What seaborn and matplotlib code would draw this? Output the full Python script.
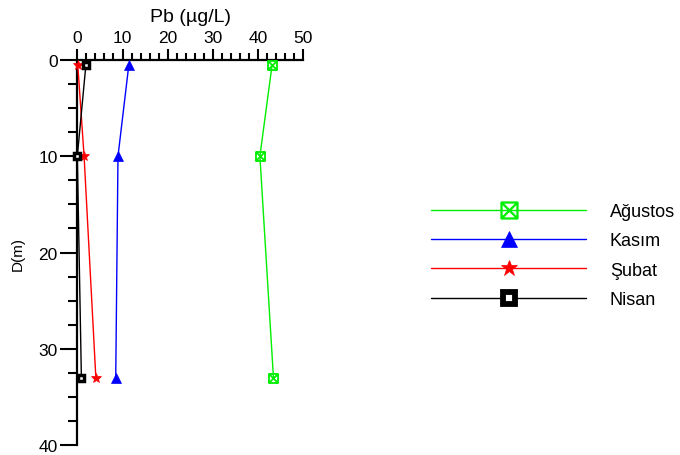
import numpy as np
import pandas as pd
import seaborn as sns
import matplotlib
matplotlib.use("Agg")
import matplotlib.pyplot as plt
from matplotlib.path import Path
from matplotlib.lines import Line2D
from matplotlib.ticker import MultipleLocator

# Sampling depths (m) and Pb concentrations (µg/L) per month
depth = [0.5, 10, 33]
agustos = [43.1, 40.4, 43.4]
kasim = [11.4, 9.0, 8.5]
subat = [0.1, 1.5, 4.1]
nisan = [1.9, 0.0, 0.9]

series_names = ["Ağustos", "Kasım", "Şubat", "Nisan"]
series_values = [agustos, kasim, subat, nisan]

sns.set_theme(style="white")
plt.rcParams["font.family"] = ["Liberation Sans", "DejaVu Sans"]
plt.rcParams.update({
    "text.color": "black",
    "axes.labelcolor": "black",
    "xtick.color": "black",
    "ytick.color": "black",
})

# Square with a cross inside
boxx = Path(
    [(-1, -1), (1, -1), (1, 1), (-1, 1), (-1, -1),
     (-1, -1), (1, 1), (-1, 1), (1, -1)],
    [Path.MOVETO, Path.LINETO, Path.LINETO, Path.LINETO, Path.CLOSEPOLY,
     Path.MOVETO, Path.LINETO, Path.MOVETO, Path.LINETO],
)

styles = {
    "Ağustos": dict(color="#00ee00", marker=boxx, markerfacecolor="none",
                    markeredgecolor="#00ee00", markersize=6.5, markeredgewidth=1.3),
    "Kasım": dict(color="#0000ff", marker="^", markerfacecolor="#0000ff",
                  markeredgecolor="#0000ff", markersize=6.5, markeredgewidth=0.5),
    "Şubat": dict(color="#ff0000", marker="*", markerfacecolor="#ff0000",
                  markeredgecolor="#ff0000", markersize=7, markeredgewidth=0.5),
    "Nisan": dict(color="#000000", marker="s", markerfacecolor="white",
                  markeredgecolor="#000000", markersize=4.2, markeredgewidth=2.5),
}

legend_sizes = {
    "Ağustos": dict(markersize=11.5, markeredgewidth=1.6),
    "Kasım": dict(markersize=11, markeredgewidth=0.5),
    "Şubat": dict(markersize=12, markeredgewidth=0.5),
    "Nisan": dict(markersize=8, markeredgewidth=4.2),
}

fig = plt.figure(figsize=(6.8, 4.56), dpi=100)
ax = fig.add_axes([0.1137, 0.0219, 0.446 - 0.1137, 0.8662 - 0.0219])

for name, vals in zip(series_names, series_values):
    df = pd.DataFrame({"Pb": vals, "D": depth})
    sns.lineplot(data=df, x="Pb", y="D", orient="y", sort=False, ax=ax,
                 linewidth=1.0, clip_on=False, zorder=3, **styles[name])

ax.set_xlim(0, 50)
ax.set_ylim(40, 0)

for s in ["right", "bottom"]:
    ax.spines[s].set_visible(False)
for s in ["top", "left"]:
    ax.spines[s].set_visible(True)
    ax.spines[s].set_color("black")
    ax.spines[s].set_linewidth(1.6)

ax.xaxis.tick_top()
ax.xaxis.set_label_position("top")
ax.xaxis.set_major_locator(MultipleLocator(10))
ax.xaxis.set_minor_locator(MultipleLocator(2))
ax.yaxis.set_major_locator(MultipleLocator(10))
ax.yaxis.set_minor_locator(MultipleLocator(2.5))

ax.tick_params(axis="x", which="major", direction="out", length=8, width=1.5,
               color="black", labelsize=12.5, pad=3, top=True, bottom=False)
ax.tick_params(axis="x", which="minor", direction="out", length=5, width=1.5,
               color="black", top=True, bottom=False)
ax.tick_params(axis="y", which="major", direction="out", length=12, width=1.5,
               color="black", labelsize=12.5, pad=2, left=True)
ax.tick_params(axis="y", which="minor", direction="out", length=6.5, width=1.5,
               color="black", left=True)

ax.set_xlabel("Pb (µg/L)", fontsize=14, labelpad=6)
ax.set_ylabel("D(m)", fontsize=11, labelpad=10)
ax.grid(False)

handles = []
for name in series_names:
    st = dict(styles[name])
    st.update(legend_sizes[name])
    handles.append(Line2D([], [], linewidth=1.0, **st))

fig.legend(handles, series_names, loc="upper left",
           bbox_to_anchor=(431 / 680, 1 - 204 / 456), frameon=False,
           fontsize=13, handlelength=8.6, handletextpad=1.3,
           labelspacing=0.68, borderpad=0, borderaxespad=0, numpoints=1)

fig.savefig("out.png", dpi=100)
